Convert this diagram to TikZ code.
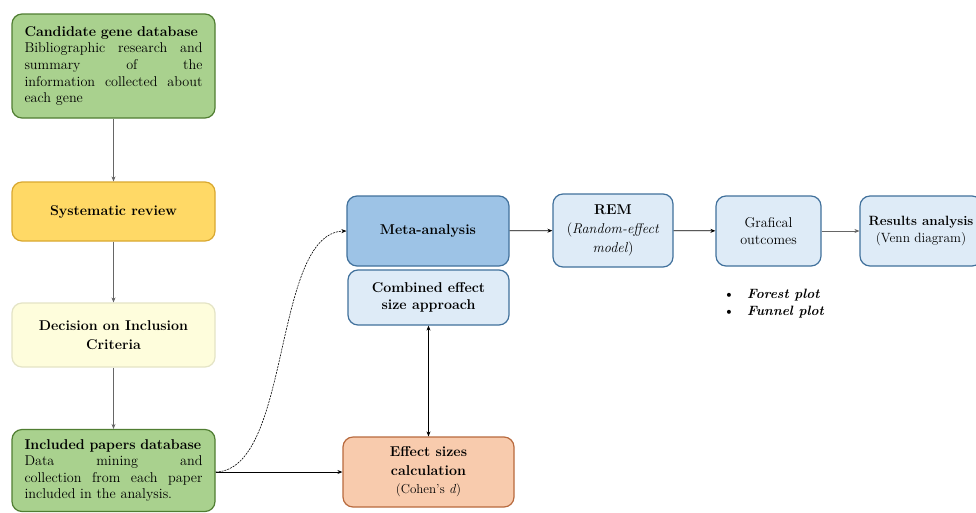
\documentclass[tikz,border=0pt]{standalone}
\usetikzlibrary{arrows.meta}
\definecolor{gfill}{HTML}{A9D18E}
\definecolor{gline}{HTML}{507E32}
\definecolor{yfill}{HTML}{FFD966}
\definecolor{yline}{HTML}{D9A830}
\definecolor{lyfill}{HTML}{FEFDDC}
\definecolor{lyline}{HTML}{E4E4C6}
\definecolor{mfill}{HTML}{9DC3E6}
\definecolor{bline}{HTML}{41719C}
\definecolor{lbfill}{HTML}{DEEBF7}
\definecolor{ofill}{HTML}{F8CBAD}
\definecolor{oline}{HTML}{B86A3E}
\newcommand\fsz{\fontsize{14.2}{16.6}\selectfont}
\tikzset{
  box/.style={draw, rounded corners=10pt, line width=1.2pt, inner sep=0pt, align=center, font=\fsz},
  greenbox/.style={box, fill=gfill, draw=gline, text width=178pt, align=left},
  bluebox/.style={box, fill=lbfill, draw=bline},
  garrow/.style={draw=gray!80!black, line width=0.6pt, -{Stealth[length=5pt,width=4pt]}},
  karrow/.style={draw=black, line width=0.8pt, -{Stealth[length=5pt,width=4pt]}},
}
\begin{document}
\begin{tikzpicture}[x=1pt,y=-1pt]
\useasboundingbox (0,0) rectangle (976,512);
\fill[white] (0,0) rectangle (976,512);

\node[greenbox, minimum width=203pt, minimum height=104pt] (cand) at (113.5,66)
  {\textbf{Candidate gene database}\\
   \makebox[178pt]{Bibliographic\hfill research\hfill and}\\
   \makebox[178pt]{summary\hfill of\hfill the}\\
   \makebox[178pt]{information\hfill collected\hfill about}\\
   each gene};
\node[box, fill=yfill, draw=yline, minimum width=203pt, minimum height=59pt] (sys) at (113.5,211.5)
  {\textbf{Systematic review}};
\node[box, fill=lyfill, draw=lyline, minimum width=203pt, minimum height=64pt,
      font=\fontsize{14.2}{18.5}\selectfont] (dec) at (113.5,335)
  {\textbf{Decision on Inclusion}\\\textbf{Criteria}};
\node[greenbox, minimum width=203pt, minimum height=82pt] (inc) at (113.5,470.5)
  {\textbf{Included papers database}\\
   \makebox[178pt]{Data\hfill mining\hfill and}\\
   \makebox[178pt]{collection\hfill from\hfill each\hfill paper}\\
   included in the analysis.};

\node[box, fill=mfill, draw=bline, minimum width=162pt, minimum height=70pt] (meta) at (428,231)
  {\textbf{Meta-analysis}};
\node[bluebox, minimum width=161pt, minimum height=55pt] (comb) at (428.5,297.5)
  {\textbf{Combined effect}\\\textbf{size approach}};
\node[bluebox, minimum width=120pt, minimum height=73pt,
      font=\fontsize{14.2}{19}\selectfont] (rem) at (613,230.5)
  {\textbf{REM}\\(\textit{Random-effect}\\\textit{model})};
\node[bluebox, minimum width=105pt, minimum height=70pt] (graf) at (768.5,231)
  {Grafical\\outcomes};
\node[bluebox, minimum width=122pt, minimum height=70pt,
      font=\fontsize{13.4}{16.6}\selectfont] (res) at (921,231)
  {\textbf{Results analysis}\\(Venn diagram)};
\node[box, fill=ofill, draw=oline, minimum width=171pt, minimum height=70pt,
      font=\fontsize{14.2}{18.5}\selectfont] (eff) at (428.5,472)
  {\textbf{Effect sizes}\\\textbf{calculation}\\{\fontsize{13}{15}\selectfont(Cohen's \textit{d})}};

\node[font=\fontsize{13.5}{17}\selectfont\bfseries\itshape, align=left, anchor=west, inner sep=0pt] (bul) at (723,303.5)
  {\makebox[24pt][l]{\textup{\textbullet}}Forest plot\\\makebox[24pt][l]{\textup{\textbullet}}Funnel plot};

\draw[garrow] (cand) -- (sys);
\draw[garrow] (sys) -- (dec);
\draw[garrow] (dec) -- (inc);
\draw[karrow] (meta) -- (rem);
\draw[karrow] (rem) -- (graf);
\draw[garrow] (graf) -- (res);
\coordinate (incout) at (inc.east |- eff.west);
\draw[karrow] (incout) -- (eff.west);
\draw[karrow, line width=0.6pt, dash pattern=on 2pt off 1pt] (incout) .. controls (292,470) and (272,233) .. (meta.west);
\draw[karrow, {Stealth[length=5pt,width=4pt]}-{Stealth[length=5pt,width=4pt]}] (comb.south) -- (eff.north);
\end{tikzpicture}
\end{document}
